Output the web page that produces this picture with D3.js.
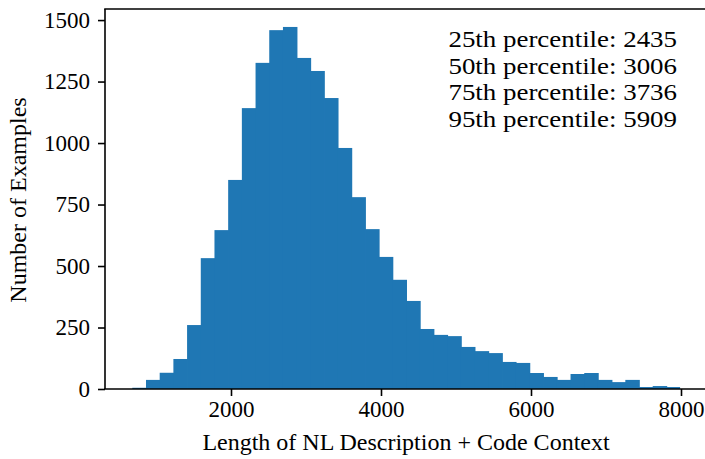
<!DOCTYPE html>
<html>
<head>
<meta charset="utf-8">
<script src="https://cdn.jsdelivr.net/npm/d3@7"></script>
<style>
  body { margin: 0; background: #fff; }
  svg text { font-family: "Liberation Serif", "Times New Roman", Times, serif; fill: #000; }
</style>
</head>
<body>
<script>
// histogram counts (40 equal bins)
const binStart = 684;
const binEnd = 7988;
const counts = [5, 37, 66, 122, 260, 532, 646, 850, 1142, 1326,
  1459, 1472, 1346, 1293, 1183, 980, 780, 650, 537, 444,
  358, 244, 220, 215, 171, 154, 146, 110, 106, 65,
  49, 37, 61, 65, 37, 28, 37, 8, 12, 8];

const xTicks = [2000, 4000, 6000, 8000];
const yTicks = [0, 250, 500, 750, 1000, 1250, 1500];
const percentiles = ["25th percentile: 2435", "50th percentile: 3006",
  "75th percentile: 3736", "95th percentile: 5909"];

const w = 705, h = 459;
const plotLeft = 105, plotRight = 705, plotTop = 9, plotBottom = 389;
const serif = "'Liberation Serif', 'Times New Roman', serif";

const svg = d3.select("body").append("svg")
  .attr("width", w)
  .attr("height", h);

const xScale = d3.scaleLinear().domain([320, 8320]).range([plotLeft, plotRight]);
const yScale = d3.scaleLinear().domain([0, 1545]).range([plotBottom, plotTop]);

const binW = (binEnd - binStart) / counts.length;
const bins = counts.map((c, i) => ({ x0: binStart + i * binW, x1: binStart + (i + 1) * binW, n: c }));

// bars overlap a hair so no seams show between them
svg.selectAll("rect.bar")
  .data(bins)
  .enter()
  .append("rect")
  .attr("class", "bar")
  .attr("x", d => xScale(d.x0))
  .attr("width", (d, i) => xScale(d.x1) - xScale(d.x0) + (i < bins.length - 1 ? 0.8 : 0))
  .attr("y", d => yScale(d.n))
  .attr("height", d => yScale(0) - yScale(d.n))
  .attr("fill", "#1f77b4");

// axes
const xAxis = d3.axisBottom(xScale).tickValues(xTicks).tickSize(7).tickPadding(5).tickFormat(d3.format("d"));
const yAxis = d3.axisLeft(yScale).tickValues(yTicks).tickSize(7).tickPadding(8).tickFormat(d3.format("d"));

const gx = svg.append("g").attr("transform", `translate(0,${plotBottom})`).call(xAxis);
const gy = svg.append("g").attr("transform", `translate(${plotLeft},0)`).call(yAxis);

[gx, gy].forEach(g => {
  g.attr("font-family", serif);
  g.select(".domain").remove();
  g.selectAll(".tick line").attr("stroke", "#000").attr("stroke-width", 1.6);
  g.selectAll(".tick text").style("font-size", "23px").style("font-family", serif);
});

// spines: left, bottom, top
svg.append("line").attr("x1", plotLeft).attr("x2", plotLeft).attr("y1", plotTop).attr("y2", plotBottom)
  .attr("stroke", "#000").attr("stroke-width", 1.6);
svg.append("line").attr("x1", plotLeft - 0.8).attr("x2", w).attr("y1", plotBottom).attr("y2", plotBottom)
  .attr("stroke", "#000").attr("stroke-width", 1.6);
svg.append("line").attr("x1", plotLeft - 0.8).attr("x2", w).attr("y1", plotTop).attr("y2", plotTop)
  .attr("stroke", "#000").attr("stroke-width", 1.6);

// labels
svg.append("text")
  .attr("x", 406)
  .attr("y", 450)
  .attr("text-anchor", "middle")
  .style("font-family", serif)
  .style("font-size", "24px")
  .text("Length of NL Description + Code Context");

svg.append("text")
  .attr("transform", `translate(26,200) rotate(-90)`)
  .attr("text-anchor", "middle")
  .style("font-family", serif)
  .style("font-size", "24px")
  .text("Number of Examples");

// percentile notes, slightly widened like the reference lettering
svg.append("g")
  .attr("transform", "translate(677,0) scale(1.17,1)")
  .selectAll("text")
  .data(percentiles)
  .enter()
  .append("text")
  .attr("x", 0)
  .attr("y", (d, i) => 47 + i * 26.6)
  .attr("text-anchor", "end")
  .style("font-family", serif)
  .style("font-size", "23px")
  .text(d => d);
</script>
</body>
</html>
